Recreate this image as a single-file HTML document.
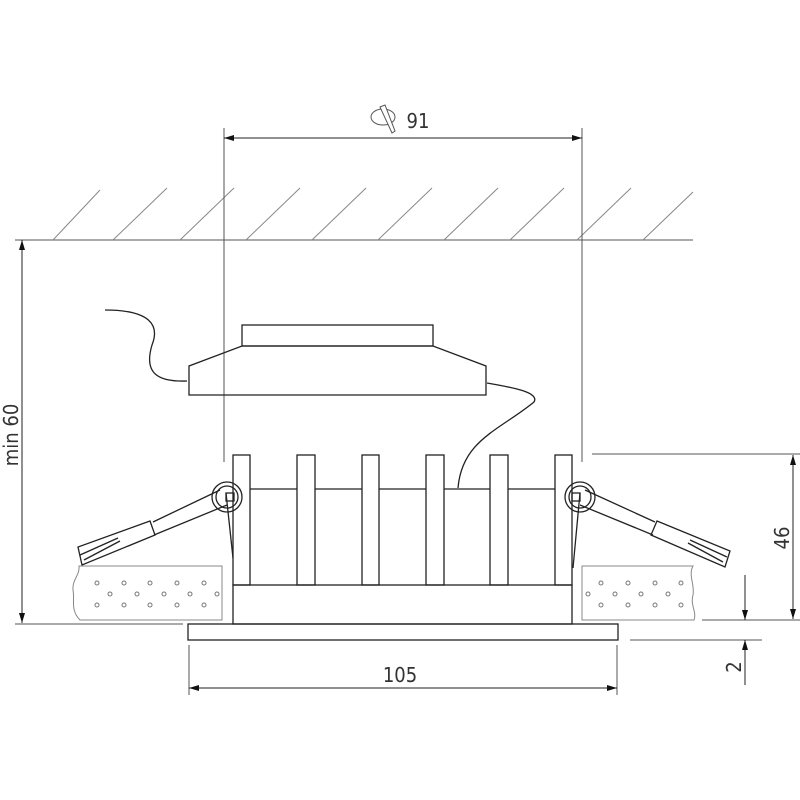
<!DOCTYPE html>
<html><head><meta charset="utf-8"><style>
html,body{margin:0;padding:0;background:#fff;}
svg{display:block;}
text{font-family:"DejaVu Sans Condensed","Liberation Sans",sans-serif;fill:#333;}
</style></head><body>
<svg width="800" height="800" viewBox="0 0 800 800" xmlns="http://www.w3.org/2000/svg">
<defs>
<marker id="a" viewBox="0 0 10 6" refX="10" refY="3" markerWidth="10" markerHeight="6" orient="auto-start-reverse" markerUnits="userSpaceOnUse"><path d="M0,0 L10,3 L0,6 z" fill="#111"/></marker>
</defs>
<g stroke="#555" stroke-width="1" fill="none">
<line x1="15" y1="240" x2="693" y2="240"/>
<g stroke="#888">
<line x1="53" y1="240" x2="100" y2="190"/>
<line x1="113" y1="240" x2="167" y2="188"/>
<line x1="180" y1="240" x2="234" y2="188"/>
<line x1="246" y1="240" x2="300" y2="188"/>
<line x1="312" y1="240" x2="366" y2="188"/>
<line x1="378" y1="240" x2="432" y2="188"/>
<line x1="444" y1="240" x2="498" y2="188"/>
<line x1="510" y1="240" x2="564" y2="188"/>
<line x1="577" y1="240" x2="631" y2="188"/>
<line x1="643" y1="240" x2="693" y2="192"/>
</g>
<line x1="224" y1="128" x2="224" y2="462"/>
<line x1="582" y1="128" x2="582" y2="462"/>
<line x1="224" y1="138" x2="582" y2="138" stroke="#222" marker-start="url(#a)" marker-end="url(#a)"/>
<ellipse cx="383" cy="117" rx="12" ry="8"/>
<path d="M380,107 L385,105 L395,131 L392,133 z" fill="#fff"/>
<line x1="22" y1="240" x2="22" y2="623" stroke="#222" marker-start="url(#a)" marker-end="url(#a)"/>
<line x1="15" y1="624" x2="183" y2="624"/>
<g stroke="#222" stroke-width="1.3">
<rect x="242" y="325" width="191" height="21"/>
<path d="M189,395 L189,366 L242,346 L433,346 L486,366 L486,395 z"/>
<path d="M105,310 C150,310 160,325 152,345 C143,375 160,382 187,381"/>
<path d="M487,383 C510,387 540,392 534,402 C500,430 462,440 458,488"/>
<rect x="233" y="455" width="17" height="130"/>
<rect x="297" y="455" width="18" height="130"/>
<rect x="362" y="455" width="17" height="130"/>
<rect x="426" y="455" width="18" height="130"/>
<rect x="490" y="455" width="18" height="130"/>
<rect x="555" y="455" width="17" height="130"/>
<line x1="250" y1="489" x2="297" y2="489"/>
<line x1="315" y1="489" x2="362" y2="489"/>
<line x1="379" y1="489" x2="426" y2="489"/>
<line x1="444" y1="489" x2="490" y2="489"/>
<line x1="508" y1="489" x2="555" y2="489"/>
<rect x="233" y="585" width="339" height="39"/>
<rect x="188" y="624" width="430" height="16"/>
<circle cx="227" cy="497" r="15"/>
<circle cx="227" cy="497" r="11"/>
<rect x="226" y="493" width="8" height="8"/>
<path d="M226,493 L233,558"/>
<path d="M220,490 L153,522 M227,505 L154,535"/>
<path d="M150,521 L78,547 L82,565 L155,535 z"/>
<path d="M84,560 L120,541 M80,555 L118,538"/>
<circle cx="580" cy="497" r="15"/>
<circle cx="580" cy="497" r="11"/>
<rect x="572" y="493" width="8" height="8"/>
<path d="M580,493 L573,568"/>
<path d="M585,490 L655,522 M580,505 L653,535"/>
<path d="M657,521 L730,551 L725,567 L651,535 z"/>
<path d="M723,562 L688,543 M727,557 L690,540"/>
</g>
<g stroke="#888">
<path d="M79,566 L222,566 L222,620 L80,620 C70,610 75,600 73,590 C72,580 80,575 79,566 z"/>
<path d="M582,566 L693,566 C688,575 695,585 693,595 C690,605 697,612 694,620 L582,620 z"/>
<g fill="none" stroke="#777">
<circle cx="97" cy="583" r="2"/><circle cx="124" cy="583" r="2"/><circle cx="150" cy="583" r="2"/><circle cx="177" cy="583" r="2"/><circle cx="204" cy="583" r="2"/>
<circle cx="110" cy="594" r="2"/><circle cx="137" cy="594" r="2"/><circle cx="164" cy="594" r="2"/><circle cx="190" cy="594" r="2"/><circle cx="217" cy="594" r="2"/>
<circle cx="97" cy="605" r="2"/><circle cx="124" cy="605" r="2"/><circle cx="150" cy="605" r="2"/><circle cx="177" cy="605" r="2"/><circle cx="204" cy="605" r="2"/>
<circle cx="601" cy="583" r="2"/><circle cx="628" cy="583" r="2"/><circle cx="655" cy="583" r="2"/><circle cx="681" cy="583" r="2"/>
<circle cx="588" cy="594" r="2"/><circle cx="615" cy="594" r="2"/><circle cx="641" cy="594" r="2"/><circle cx="668" cy="594" r="2"/>
<circle cx="601" cy="605" r="2"/><circle cx="628" cy="605" r="2"/><circle cx="655" cy="605" r="2"/><circle cx="681" cy="605" r="2"/>
</g>
</g>
<line x1="592" y1="454" x2="800" y2="454"/>
<line x1="702" y1="620" x2="800" y2="620"/>
<line x1="793" y1="455" x2="793" y2="619" stroke="#222" marker-start="url(#a)" marker-end="url(#a)"/>
<line x1="630" y1="640" x2="762" y2="640"/>
<line x1="745" y1="575" x2="745" y2="620" stroke="#222" marker-end="url(#a)"/>
<line x1="745" y1="685" x2="745" y2="640" stroke="#222" marker-end="url(#a)"/>
<line x1="189" y1="645" x2="189" y2="695"/>
<line x1="617" y1="645" x2="617" y2="695"/>
<line x1="189" y1="688" x2="617" y2="688" stroke="#222" marker-start="url(#a)" marker-end="url(#a)"/>
</g>
<text x="418" y="128" font-size="20" text-anchor="middle">91</text>
<text x="400" y="682" font-size="20" text-anchor="middle">105</text>
<text transform="translate(18,435) rotate(-90)" font-size="20" text-anchor="middle">min 60</text>
<text transform="translate(789,538) rotate(-90)" font-size="20" text-anchor="middle">46</text>
<text transform="translate(741,667) rotate(-90)" font-size="20" text-anchor="middle">2</text>
</svg>
</body></html>
